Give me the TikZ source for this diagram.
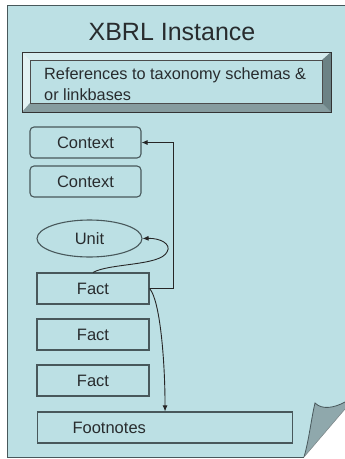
\documentclass[tikz,border=0pt]{standalone}
\usepackage{fontspec}
\setmainfont{Liberation Sans}
\usetikzlibrary{positioning,shapes.geometric,arrows.meta}

\definecolor{pagefill}{RGB}{188,224,228}
\definecolor{edgegray}{RGB}{72,88,91}
\definecolor{inkgray}{RGB}{40,44,46}
\definecolor{foldgray}{RGB}{143,168,172}
\definecolor{bevtop}{RGB}{214,237,239}
\definecolor{bevleft}{RGB}{226,242,243}
\definecolor{bevbottom}{RGB}{134,156,159}
\definecolor{bevright}{RGB}{108,130,133}

\tikzset{
  itembox/.style={draw=edgegray, line width=1.1pt, fill=pagefill, text=inkgray,
    minimum width=112pt, minimum height=31pt, inner sep=0pt, font=\fontsize{16.5}{19}\selectfont},
  ctxbox/.style={itembox, rounded corners=4pt, minimum width=111pt},
  link/.style={draw=black!85, line width=0.9pt, -{Latex[length=6pt,width=5pt]}}
}

\begin{document}
\begin{tikzpicture}[x=1pt,y=-1pt]
  \useasboundingbox (0,0) rectangle (345,459);

  % Sheet with curled corner
  \fill[pagefill] (7,5) -- (345,5) -- (345,402) -- (304,457) -- (7,457) -- cycle;
  \draw[edgegray, line width=1pt] (345,5) -- (7,5) -- (7,457) -- (304,457);
  \fill[foldgray] (304,457) .. controls (309,440) and (311,420) .. (315,403)
    .. controls (322,410) and (334,408) .. (345,402) -- (345,409) -- cycle;
  \draw[edgegray, line width=0.8pt] (304,457) .. controls (309,440) and (311,420) .. (315,403)
    .. controls (322,410) and (334,408) .. (345,402);
  \draw[edgegray!70, line width=0.6pt] (304,457) -- (345,409);

  % Title
  \node[text=inkgray] (title) at (172,32) {\fontsize{25}{28}\selectfont XBRL Instance};

  % Bevelled box
  \fill[bevtop] (22,52) -- (331,52) -- (322,60) -- (30,60) -- cycle;
  \fill[bevleft] (22,52) -- (30,60) -- (30,103) -- (22,112) -- cycle;
  \fill[bevbottom] (22,112) -- (30,103) -- (322,103) -- (331,112) -- cycle;
  \fill[bevright] (331,52) -- (331,112) -- (322,103) -- (322,60) -- cycle;
  \draw[black!80, line width=0.8pt] (22,52) rectangle (331,112);
  \draw[black!70, line width=0.6pt] (30,60) rectangle (322,103);
  \node[anchor=north west, align=left, inner sep=0pt, text=inkgray,
    font=\fontsize{16.3}{21}\selectfont] (refs) at (44,67)
    {References to taxonomy schemas \&\\or linkbases};

  % Contexts, unit, facts, footnotes
  \node[ctxbox] (ctx1) at (85.5,142.5) {Context};
  \node[ctxbox] (ctx2) at (85.5,181.5) {Context};
  \node[itembox, ellipse, minimum width=105pt, minimum height=37pt] (unit) at (89.5,238.5) {Unit};
  \node[itembox] (fact1) at (93,288.5) {Fact};
  \node[itembox] (fact2) at (93,334.5) {Fact};
  \node[itembox] (fact3) at (93,380.5) {Fact};
  \node[itembox, minimum width=0pt, text width=185pt, inner xsep=35pt, align=left,
    anchor=west] (foot) at (37,427.5) {Footnotes};

  % Links from the fact
  \coordinate (turn) at (173,142.5);
  \draw[link] (fact1.east) -| (turn) -- (ctx1.east);
  \draw[link] (fact1.north) .. controls (110,263) and (160,266) .. (167,252)
    .. controls (172,244) and (160,238) .. (unit.east);
  \draw[link] (fact1.east) .. controls (160,300) and (165,360) .. (foot.north);
\end{tikzpicture}
\end{document}
